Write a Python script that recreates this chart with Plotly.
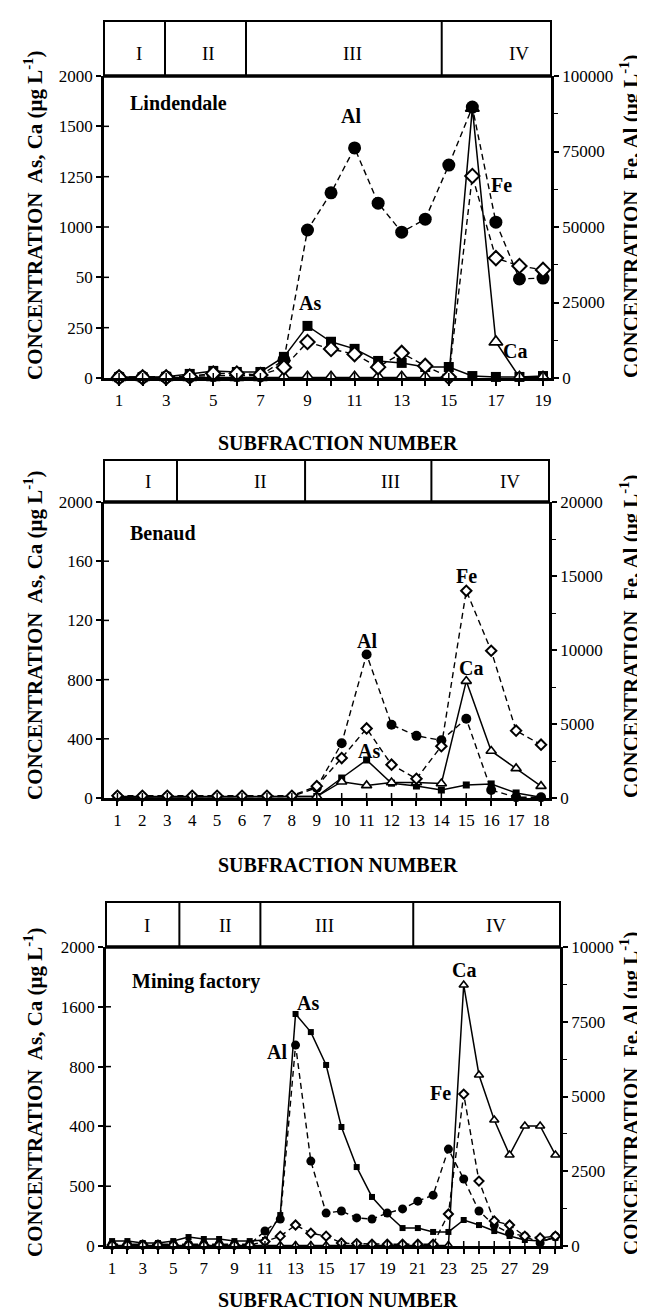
import plotly.graph_objects as go

W, H = 645, 1312

# ---------------- data ----------------
# Left axis values are in plot units of a 0-2000 scale (broken axis in the original),
# right axis values in µg/L.
lin_x = list(range(1, 20))
lin_as = [5, 5, 8, 27, 47, 40, 40, 140, 345, 240, 193, 113, 100, 73, 73, 13, 7, 7, 13]
lin_ca = [3, 3, 3, 3, 3, 3, 3, 5, 5, 5, 5, 5, 5, 5, 5, 1787, 239, 5, 5]
lin_al = [300, 300, 300, 500, 800, 800, 800, 6000, 49000, 61300, 76200, 57900, 48300,
          52600, 70500, 89700, 51600, 32800, 33100]
lin_fe = [200, 200, 200, 500, 1500, 1500, 1000, 3500, 11900, 9600, 7900, 3600, 8300,
          4000, 330, 66900, 39700, 37100, 35800]

ben_x = list(range(1, 19))
ben_as = [10, 10, 10, 10, 10, 10, 10, 10, 10, 135, 257, 100, 81, 54, 88, 95, 34, 5]
ben_ca = [5, 5, 5, 5, 5, 5, 5, 5, 10, 110, 85, 105, 105, 98, 790, 318, 200, 80]
ben_al = [100, 100, 100, 100, 100, 100, 100, 100, 700, 3700, 9700, 4950, 4200, 3900,
          5350, 540, 50, 50]
ben_fe = [150, 150, 150, 150, 150, 150, 150, 150, 800, 2700, 4700, 2250, 1300, 3500,
          14000, 9950, 4550, 3600]

min_x = list(range(1, 31))
min_as = [33, 33, 20, 20, 33, 60, 47, 47, 33, 33, 40, 207, 1552, 1431, 1211, 796, 528,
          328, 214, 120, 120, 94, 94, 174, 140, 100, 67, 40, 33, 54]
min_ca = [3] * 23 + [1746, 1144, 843, 609, 803, 803, 609]
min_al = [60] * 10 + [500, 900, 6720, 2840, 1100, 1170, 940, 900, 1100, 1240, 1500,
                      1700, 3240, 2240, 1170, 700, 430, 330, 100, 330]
min_fe = [30] * 10 + [150, 330, 700, 430, 330, 100, 80, 60, 60, 60, 60, 60, 1070,
                      5080, 2170, 840, 700, 330, 270, 330]

lin_left_text = ["0", "250", "50", "1000", "1250", "1500", "2000"]
ben_left_text = ["0", "400", "800", "120", "160", "2000"]
min_left_text = ["0", "500", "400", "800", "1600", "2000"]

lin_right_ticks = [0, 25000, 50000, 75000, 100000]
ben_right_ticks = [0, 5000, 10000, 15000, 20000]
min_right_ticks = [0, 2500, 5000, 7500, 10000]

fractions = ["I", "II", "III", "IV"]
lin_dividers = [2.95, 6.39, 14.7]
ben_dividers = [3.39, 8.53, 13.6]
min_dividers = [5.4, 10.7, 20.7]
lin_frac_pos = [1.85, 4.78, 10.9, 18.0]
ben_frac_pos = [2.23, 6.76, 11.95, 16.76]
min_frac_pos = [3.3, 8.4, 14.9, 26.1]

# ---------------- layout helpers ----------------
FONT = "Liberation Serif, Times New Roman, serif"
TICK = 17


def py(p):
    return 1 - p / H


def px(p):
    return p / W


panels = [
    dict(name="Lindendale", x=lin_x, As=lin_as, Ca=lin_ca, Al=lin_al, Fe=lin_fe,
         left_text=lin_left_text, right_ticks=lin_right_ticks,
         dividers=lin_dividers, frac_pos=lin_frac_pos, odd_only=True,
         xl=96, xr=543, top=68, bottom=370, htop=13, frac_y=46, xrange=[0.36, 19.34],
         msize=13, name_y=95, title_y=435, side_y=208,
         labels=[("Al", 10.85, 108), ("Fe", 17.25, 177), ("As", 9.1, 295), ("Ca", 17.8, 343)]),
    dict(name="Benaud", x=ben_x, As=ben_as, Ca=ben_ca, Al=ben_al, Fe=ben_fe,
         left_text=ben_left_text, right_ticks=ben_right_ticks,
         dividers=ben_dividers, frac_pos=ben_frac_pos, odd_only=False,
         xl=96, xr=541, top=494, bottom=790, htop=452, frac_y=473, xrange=[0.46, 18.32],
         msize=10, name_y=525, title_y=857, side_y=628,
         labels=[("Al", 11, 633), ("Fe", 15, 568), ("Ca", 15.2, 660), ("As", 11.1, 743)]),
    dict(name="Mining factory", x=min_x, As=min_as, Ca=min_ca, Al=min_al, Fe=min_fe,
         left_text=min_left_text, right_ticks=min_right_ticks,
         dividers=min_dividers, frac_pos=min_frac_pos, odd_only=True,
         xl=98, xr=552, top=939, bottom=1238, htop=894, frac_y=917, xrange=[0.6, 30.3],
         msize=9, name_y=973, title_y=1292, side_y=1085,
         labels=[("As", 13.8, 995), ("Al", 11.8, 1044), ("Ca", 24, 962), ("Fe", 22.5, 1085)]),
]

fig = go.Figure()
layout = dict(width=W, height=H, margin=dict(l=0, r=0, t=0, b=0),
              plot_bgcolor="white", paper_bgcolor="white", showlegend=False,
              font=dict(family=FONT, color="black"))
shapes = []
annotations = []


def note(text, xref, yref, x, y, size, angle=0, xanchor="center"):
    annotations.append(dict(text=text, xref=xref, yref=yref, x=x, y=y, textangle=angle,
                            xanchor=xanchor, yanchor="middle", showarrow=False,
                            font=dict(size=size, family=FONT, color="black")))


for i, p in enumerate(panels):
    xn = "" if i == 0 else str(i + 1)
    yl = str(2 * i + 1) if i > 0 else ""
    yr = str(2 * i + 2)
    xref = "x" + xn
    ylref = "y" + yl
    yrref = "y" + yr
    ms = p["msize"]

    # traces
    fig.add_trace(go.Scatter(x=p["x"], y=p["Al"], xaxis=xref, yaxis=yrref, mode="lines+markers",
                             line=dict(color="black", width=1.4, dash="6px,4px"),
                             marker=dict(symbol="circle", size=ms, color="black"),
                             cliponaxis=False))
    fig.add_trace(go.Scatter(x=p["x"], y=p["As"], xaxis=xref, yaxis=ylref, mode="lines+markers",
                             line=dict(color="black", width=1.5),
                             marker=dict(symbol="square", size=ms - 3, color="black"),
                             cliponaxis=False))
    fig.add_trace(go.Scatter(x=p["x"], y=p["Fe"], xaxis=xref, yaxis=yrref, mode="lines+markers",
                             line=dict(color="black", width=1.4, dash="6px,4px"),
                             marker=dict(symbol="diamond", size=ms - 2, color="white",
                                         line=dict(color="black", width=2)),
                             cliponaxis=False))
    fig.add_trace(go.Scatter(x=p["x"], y=p["Ca"], xaxis=xref, yaxis=ylref, mode="lines+markers",
                             line=dict(color="black", width=1.5),
                             marker=dict(symbol="triangle-up", size=ms - 1, color="white",
                                         line=dict(color="black", width=1.6)),
                             cliponaxis=False))

    xdom = [px(p["xl"]), px(p["xr"])]
    ydom = [py(p["bottom"]), py(p["top"])]
    nleft = len(p["left_text"])
    left_vals = [2000 * k / (nleft - 1) for k in range(nleft)]
    if p["odd_only"]:
        major = [v for v in p["x"] if v % 2 == 1]
        minor_vals = [v for v in p["x"] if v % 2 == 0]
    else:
        major = list(p["x"])
        minor_vals = []

    xaxis = dict(domain=xdom, range=p["xrange"], anchor="y" + yl,
                 showline=True, linewidth=2.5, linecolor="black",
                 ticks="outside", ticklen=5, tickwidth=1.5, tickcolor="black",
                 tickmode="array", tickvals=major, ticktext=[str(v) for v in major],
                 tickfont=dict(size=TICK, family=FONT),
                 showgrid=False, zeroline=False, automargin=False)
    if minor_vals:
        xaxis["minor"] = dict(ticks="outside", ticklen=5, tickwidth=1.5, tickcolor="black",
                              tickmode="array", tickvals=minor_vals, showgrid=False)
    layout["xaxis" + xn] = xaxis
    layout["yaxis" + yl] = dict(domain=ydom, range=[0, 2000], anchor="x" + xn,
                                showline=True, linewidth=2.5, linecolor="black",
                                ticks="outside", ticklen=5, tickwidth=1.5, tickcolor="black",
                                tickmode="array", tickvals=left_vals, ticktext=p["left_text"],
                                tickfont=dict(size=TICK, family=FONT),
                                showgrid=False, zeroline=False, automargin=False)
    rt = p["right_ticks"]
    layout["yaxis" + yr] = dict(domain=ydom, range=[0, rt[-1]], anchor="x" + xn,
                                overlaying="y" + yl, side="right",
                                showline=True, linewidth=2.5, linecolor="black",
                                ticks="outside", ticklen=5, tickwidth=1.5, tickcolor="black",
                                tickmode="array", tickvals=rt, ticktext=[str(v) for v in rt],
                                minor=dict(ticks="outside", ticklen=4, tickwidth=1,
                                           tickcolor="black", dtick=rt[1] / 2, tick0=0,
                                           showgrid=False),
                                tickfont=dict(size=TICK, family=FONT),
                                showgrid=False, zeroline=False, automargin=False)

    # inner halves of the crossing ticks
    for v in p["x"]:
        shapes.append(dict(type="line", xref=xref, yref="paper", x0=v, x1=v,
                           y0=py(p["bottom"]), y1=py(p["bottom"] - 5),
                           line=dict(color="black", width=1.5)))
    for v in left_vals[1:-1]:
        shapes.append(dict(type="line", xref="paper", yref=ylref,
                           x0=px(p["xl"]), x1=px(p["xl"] + 5), y0=v, y1=v,
                           line=dict(color="black", width=1.5)))

    # header box
    shapes.append(dict(type="rect", xref="paper", yref="paper",
                       x0=px(p["xl"]), x1=px(p["xr"]), y0=py(p["top"]), y1=py(p["htop"]),
                       line=dict(color="black", width=2), fillcolor="rgba(0,0,0,0)"))
    shapes.append(dict(type="line", xref="paper", yref="paper",
                       x0=px(p["xl"]), x1=px(p["xr"]), y0=py(p["top"]), y1=py(p["top"]),
                       line=dict(color="black", width=3.5)))
    for d in p["dividers"]:
        shapes.append(dict(type="line", xref=xref, yref="paper", x0=d, x1=d,
                           y0=py(p["top"]), y1=py(p["htop"]),
                           line=dict(color="black", width=2)))
    for label, xp in zip(fractions, p["frac_pos"]):
        note(label, xref, "paper", xp, py(p["frac_y"]), 19)

    # panel name and element labels
    note("<b>%s</b>" % p["name"], "paper", "paper", px(p["xl"] + 24), py(p["name_y"]), 20,
         xanchor="left")
    for t, xv, ypx in p["labels"]:
        note("<b>%s</b>" % t, xref, "paper", xv, py(ypx), 20)

    # axis titles
    note("<b>CONCENTRATION  As, Ca (μg L<sup>-1</sup>)</b>", "paper", "paper",
         px(25), py(p["side_y"]), 21, angle=-90)
    note("<b>CONCENTRATION  Fe, Al (μg L<sup>-1</sup>)</b>", "paper", "paper",
         px(621), py(p["side_y"]), 21, angle=-90)
    note("<b>SUBFRACTION NUMBER</b>", "paper", "paper",
         px(330), py(p["title_y"]), 20)

layout["shapes"] = shapes
layout["annotations"] = annotations
fig.update_layout(**layout)
fig.write_html("out.html")
